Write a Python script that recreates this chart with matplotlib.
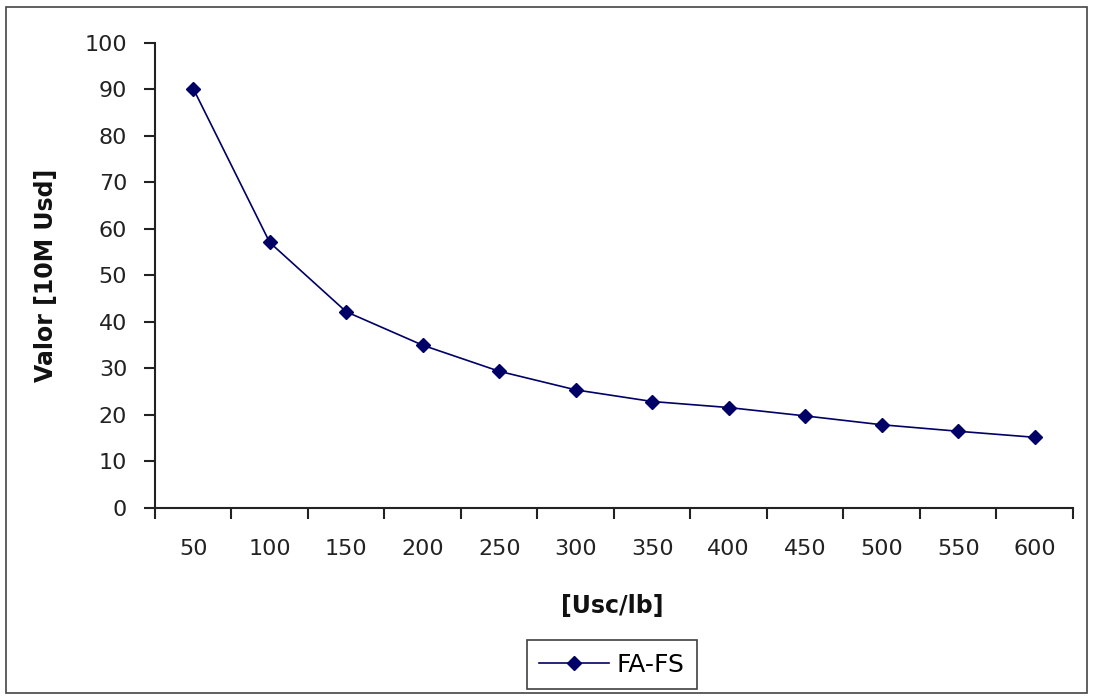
import matplotlib
matplotlib.use("Agg")
import matplotlib.pyplot as plt
from matplotlib.patches import Rectangle
import numpy as np

# price per lb vs. value curve
categories = ["50", "100", "150", "200", "250", "300", "350", "400", "450", "500", "550", "600"]
fa_fs = [90.2, 57.1, 42.2, 35.0, 29.4, 25.4, 22.9, 21.6, 19.8, 17.9, 16.5, 15.2]

plt.rcParams["font.family"] = "DejaVu Sans"

fig = plt.figure(figsize=(10.93, 7.0), dpi=100)
ax = fig.add_axes([0.1418, 0.2743, 0.8399, 0.6643])

x = np.arange(len(categories))
ax.plot(x, fa_fs, color="#000066", lw=1.2, marker="D", ms=7,
        mfc="#000066", mec="#000066", label="FA-FS")

ax.set_xlim(-0.5, len(categories) - 0.5)
ax.set_ylim(0, 100)
ax.set_yticks(np.arange(0, 101, 10))

# category labels sit between the boundary tick marks
ax.set_xticks(x, categories)
ax.set_xticks(np.arange(-0.5, len(categories), 1.0), minor=True)
ax.tick_params(axis="x", which="major", length=0, pad=22, labelsize=16, labelcolor="#222")
ax.tick_params(axis="x", which="minor", length=8, width=1.5, direction="out", color="#222")
ax.tick_params(axis="y", length=8, width=1.5, direction="out", pad=12, labelsize=16,
               color="#222", labelcolor="#222")

for side in ("top", "right"):
    ax.spines[side].set_visible(False)
for side in ("left", "bottom"):
    ax.spines[side].set_linewidth(1.5)
    ax.spines[side].set_color("#222")

fig.text(0.042, 0.6064, "Valor [10M Usd]", rotation=90, ha="center", va="center",
         fontsize=17, fontweight="bold", color="#111")
fig.text(0.5600, 0.134, "[Usc/lb]", ha="center", va="center",
         fontsize=17, fontweight="bold", color="#111")

leg = fig.legend(loc="center", bbox_to_anchor=(0.56, 0.0507), fontsize=18,
                 frameon=True, fancybox=False, handlelength=2.8, handletextpad=0.3,
                 borderpad=0.5, borderaxespad=0)
leg.get_frame().set_edgecolor("#111")
leg.get_frame().set_linewidth(1.2)

# outer chart border
fig.patches.append(Rectangle((0.0055, 0.01), 0.989, 0.98, transform=fig.transFigure,
                             fill=False, edgecolor="#444", lw=1.2))

fig.savefig("out.png", dpi=100)
